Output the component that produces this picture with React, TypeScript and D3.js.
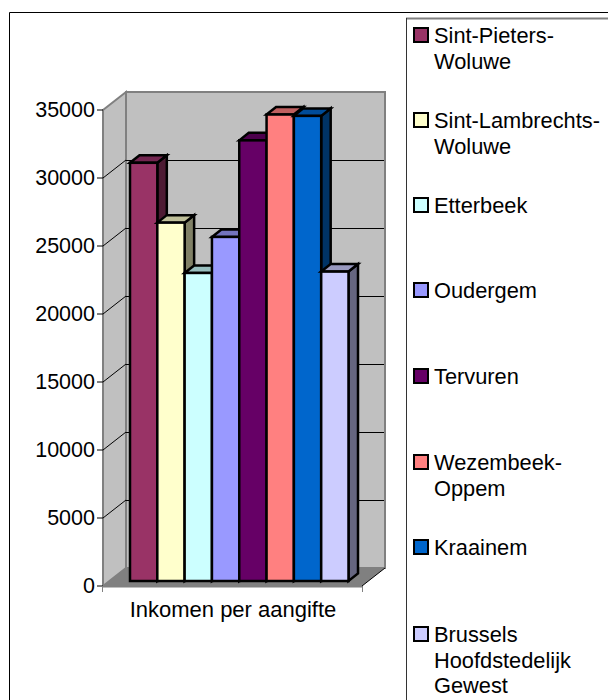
import React from "react";
import * as d3 from "d3";

const categories = ["Sint-Pieters-|Woluwe","Sint-Lambrechts-|Woluwe","Etterbeek","Oudergem","Tervuren","Wezembeek-|Oppem","Kraainem","Brussels|Hoofdstedelijk|Gewest"];
const values = [30750, 26350, 22650, 25300, 32400, 34300, 34200, 22750];
const frontColors = ["#993366","#ffffcc","#ccffff","#9999ff","#660066","#ff8080","#0066cc","#ccccff"];
const topColors = ["#732650","#bfbf99","#99bfbf","#7373bf","#4c004c","#bf6060","#004c99","#9999bf"];
const sideColors = ["#4d1a33","#808066","#668080","#4d4d80","#330033","#804040","#003366","#666680"];
const legendBaseline = [43, 128, 213, 298, 384, 470, 555, 642];
const yTicks = [0,5000,10000,15000,20000,25000,30000,35000];
const xLabel = "Inkomen per aangifte";
const font = "'Liberation Sans', Arial, sans-serif";

export default function App() {
  const y = d3.scaleLinear().domain([0,35000]).range([586,110]);
  const x = d3.scaleBand<number>().domain(d3.range(8)).range([130,348.5]);
  const wall = {dx:23, dy:-18};
  const barD = {dx:9.5, dy:-7.5};
  const barLift = -5;
  const poly = (pts:number[][]) => pts.map(p=>p.join(",")).join(" ");
  const x0=103,x1=362;
  return (
    <svg width={608} height={700} style={{position:"absolute",left:0,top:0,display:"block"}}>
      <rect x={0} y={0} width={608} height={700} fill="#fff"/>
      <path d="M9.5 700V12.5H608" fill="none" stroke="#000" strokeWidth={1}/>
      {/* walls */}
      <polygon points={poly([[x0+wall.dx,y(35000)+wall.dy],[x1+wall.dx,y(35000)+wall.dy],[x1+wall.dx,y(0)+wall.dy],[x0+wall.dx,y(0)+wall.dy]])} fill="#c0c0c0" stroke="#808080" strokeWidth={2}/>
      <polygon points={poly([[x0,y(35000)],[x0+wall.dx,y(35000)+wall.dy],[x0+wall.dx,y(0)+wall.dy],[x0,y(0)]])} fill="#c0c0c0" stroke="#808080" strokeWidth={2}/>
      <polygon points={poly([[x0,y(0)],[x0+wall.dx,y(0)+wall.dy],[x1+wall.dx,y(0)+wall.dy],[x1,y(0)]])} fill="#808080"/>
      {yTicks.slice(1,-1).map(t=>(
        <g key={t}>
          <line x1={x0} y1={y(t)} x2={x0+wall.dx} y2={y(t)+wall.dy} stroke="#000"/>
          <line x1={x0+wall.dx} y1={Math.round(y(t)+wall.dy)+.5} x2={x1+wall.dx-1} y2={Math.round(y(t)+wall.dy)+.5} stroke="#000"/>
        </g>
      ))}
      {/* axes */}
      <line x1={x0} y1={y(0)+.5} x2={x1} y2={y(0)+.5} stroke="#808080" strokeWidth={2}/>
      {yTicks.map(t=>(
        <g key={t}>
          <line x1={x0-6} x2={x0} y1={y(t)} y2={y(t)} stroke="#000"/>
          <text x={x0-8} y={y(t)+7} textAnchor="end" fontFamily={font} fontSize={21.5} fill="#000">{t}</text>
        </g>
      ))}
      <path d={`M${x0-.5} ${y(0)}v6M${x1+.5} ${y(0)}v6`} stroke="#808080"/>
      <line x1={x1} y1={y(0)} x2={x1+wall.dx} y2={y(0)+wall.dy} stroke="#000"/>
      <text x={233} y={617} textAnchor="middle" fontFamily={font} fontSize={22} fill="#000">{xLabel}</text>
      {/* bars */}
      {values.map((v,i)=>{
        const l=x(i)!, r=l+x.bandwidth(), t=y(v)+barLift, b=y(0)+barLift;
        return (
          <g key={i} stroke="#000" strokeWidth={2.5} strokeLinejoin="miter">
            <polygon points={poly([[r,b],[r,t],[r+barD.dx,t+barD.dy],[r+barD.dx,b+barD.dy]])} fill={sideColors[i]}/>
            <polygon points={poly([[l,t],[l+barD.dx,t+barD.dy],[r+barD.dx,t+barD.dy],[r,t]])} fill={topColors[i]}/>
            <rect x={l} y={t} width={x.bandwidth()} height={b-t} fill={frontColors[i]}/>
          </g>
        );
      })}
      {/* legend */}
      <path d="M406 18.5H608" fill="none" stroke="#808080" strokeWidth={2}/>
      <path d="M406.5 700V18" fill="none" stroke="#333" strokeWidth={1}/>
      {categories.map((c,i)=>(
        <g key={c}>
          <rect x={414} y={legendBaseline[i]-15} width={14} height={14} fill={frontColors[i]} stroke="#000" strokeWidth={2}/>
          <text fontFamily={font} fontSize={21.8} fill="#000">
            {c.split("|").map((s,j)=>(<tspan key={j} x={434} y={legendBaseline[i]+j*25.5}>{s}</tspan>))}
          </text>
        </g>
      ))}
    </svg>
  );
}
